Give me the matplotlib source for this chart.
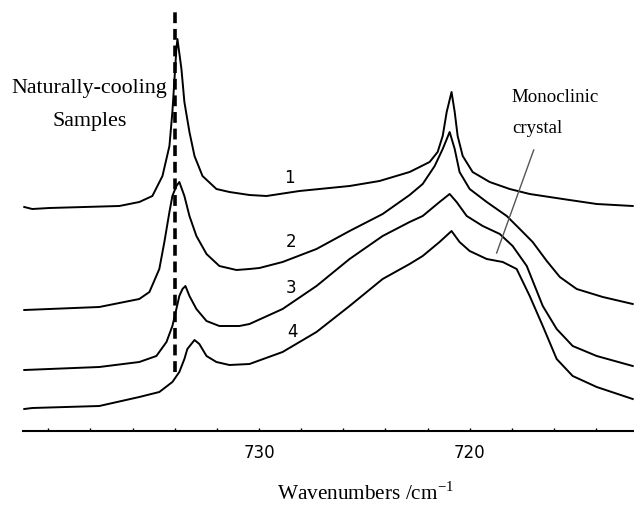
import matplotlib
matplotlib.use('Agg')
import matplotlib.pyplot as plt
from matplotlib.ticker import MultipleLocator, FixedFormatter, FixedLocator

# FTIR spectra of the CH2 rocking region, offset for clarity
wn1 = [741.14, 740.76, 739.95, 736.63, 735.68, 735.06, 734.58, 734.25, 734.11, 734.01,
       733.92, 733.87, 733.68, 733.54, 733.30, 733.06, 732.68, 732.02, 731.40, 730.45,
       729.64, 728.08, 725.70, 724.28, 722.85, 721.90, 721.52, 721.28, 721.09, 720.86,
       720.71, 720.57, 720.33, 719.86, 719.05, 718.10, 717.15, 715.58, 713.97, 712.26]
ab1 = [2.24, 2.22, 2.23, 2.25, 2.29, 2.35, 2.55, 2.85, 3.19, 3.52,
       3.82, 3.92, 3.62, 3.29, 2.99, 2.75, 2.55, 2.42, 2.39, 2.36,
       2.35, 2.40, 2.45, 2.50, 2.59, 2.69, 2.79, 2.95, 3.19, 3.39,
       3.19, 2.95, 2.75, 2.59, 2.49, 2.42, 2.37, 2.32, 2.27, 2.25]

wn2 = [741.14, 739.95, 737.58, 735.68, 735.20, 734.73, 734.49, 734.25, 734.11, 733.92,
       733.78, 733.54, 733.30, 732.97, 732.49, 731.88, 731.07, 730.45, 729.98, 728.88,
       727.27, 725.70, 724.13, 722.85, 722.23, 721.66, 721.28, 720.95, 720.71, 720.48,
       720.00, 719.19, 718.24, 717.62, 717.01, 716.34, 715.72, 714.92, 713.68, 712.26]
ab2 = [1.21, 1.22, 1.24, 1.32, 1.39, 1.62, 1.89, 2.19, 2.35, 2.45,
       2.49, 2.35, 2.15, 1.95, 1.77, 1.65, 1.61, 1.62, 1.63, 1.69,
       1.82, 2.00, 2.17, 2.36, 2.47, 2.65, 2.82, 2.99, 2.82, 2.59,
       2.42, 2.29, 2.15, 2.02, 1.89, 1.70, 1.54, 1.42, 1.34, 1.27]

wn3 = [741.14, 737.58, 735.68, 734.87, 734.39, 734.11, 733.92, 733.78, 733.63, 733.49,
       733.30, 732.97, 732.49, 731.88, 730.93, 730.45, 728.88, 727.27, 725.70, 724.13,
       722.85, 722.23, 721.43, 720.95, 720.62, 720.14, 719.38, 718.57, 717.96, 717.29,
       716.53, 715.87, 715.11, 713.97, 712.26]
ab3 = [0.61, 0.64, 0.69, 0.75, 0.89, 1.05, 1.22, 1.35, 1.42, 1.45,
       1.35, 1.22, 1.10, 1.05, 1.05, 1.07, 1.22, 1.45, 1.72, 1.95,
       2.09, 2.15, 2.29, 2.37, 2.29, 2.15, 2.05, 1.97, 1.85, 1.65,
       1.25, 1.02, 0.85, 0.75, 0.65]

wn4 = [741.14, 740.76, 737.58, 735.68, 734.73, 734.11, 733.78, 733.54, 733.40, 733.06,
       732.83, 732.49, 732.02, 731.40, 730.45, 728.88, 727.27, 725.70, 724.13, 722.85,
       722.23, 721.43, 720.86, 720.48, 720.00, 719.19, 718.43, 717.77, 717.15, 716.53,
       715.87, 715.11, 713.97, 712.26]
ab4 = [0.22, 0.23, 0.25, 0.34, 0.39, 0.49, 0.59, 0.72, 0.82, 0.91,
       0.87, 0.75, 0.69, 0.66, 0.67, 0.79, 0.99, 1.25, 1.52, 1.67,
       1.75, 1.89, 2.00, 1.89, 1.80, 1.72, 1.69, 1.62, 1.35, 1.05,
       0.72, 0.55, 0.44, 0.32]

curve_labels = ['1', '2', '3', '4']
label_wn = [728.55, 728.46, 728.46, 728.41]
label_ab = [2.54, 1.90, 1.44, 1.00]

ref_wn = 734.0  # position of the naturally-cooling band

fig = plt.figure(figsize=(6.34, 5.06), dpi=100)
ax = fig.add_axes([23/634, 74/506, 611/634, 432/506])

for wn, ab in [(wn1, ab1), (wn2, ab2), (wn3, ab3), (wn4, ab4)]:
    ax.plot(wn, ab, color='k', lw=1.4)

ax.plot([ref_wn, ref_wn], [0.59, 4.20], color='k', lw=2.6, ls=(0, (3, 1.6)))

for t, x, y in zip(curve_labels, label_wn, label_ab):
    ax.text(x, y, t, fontsize=12, ha='center', va='center', family='DejaVu Sans')

ax.text(738.05, 3.27, 'Naturally-cooling\nSamples', fontsize=15.8, ha='center', va='center',
        family='Liberation Serif', linespacing=2.0)
ax.text(718.0, 3.19, 'Monoclinic\ncrystal', fontsize=13.6, ha='left', va='center',
        family='Liberation Serif', linespacing=2.1)
ax.plot([716.96, 718.72], [2.81, 1.78], color='#555555', lw=1.0)

ax.set_xlim(741.2, 712.2)
ax.set_ylim(0, 4.32)

for s in ['top', 'right', 'left']:
    ax.spines[s].set_visible(False)
ax.spines['bottom'].set_linewidth(1.5)
ax.set_yticks([])

ax.xaxis.set_major_locator(FixedLocator([730, 720]))
ax.xaxis.set_major_formatter(FixedFormatter(['730', '720']))
ax.xaxis.set_minor_locator(MultipleLocator(2))
ax.tick_params(axis='x', which='both', direction='in', length=2.5, width=1, pad=9, labelsize=12)

fig.text(366/634, 1 - 494/506, 'Wavenumbers /cm$^{\\mathregular{-1}}$', fontsize=15.3,
         ha='center', va='center', family='Liberation Serif')

plt.savefig('out.png', dpi=100)
